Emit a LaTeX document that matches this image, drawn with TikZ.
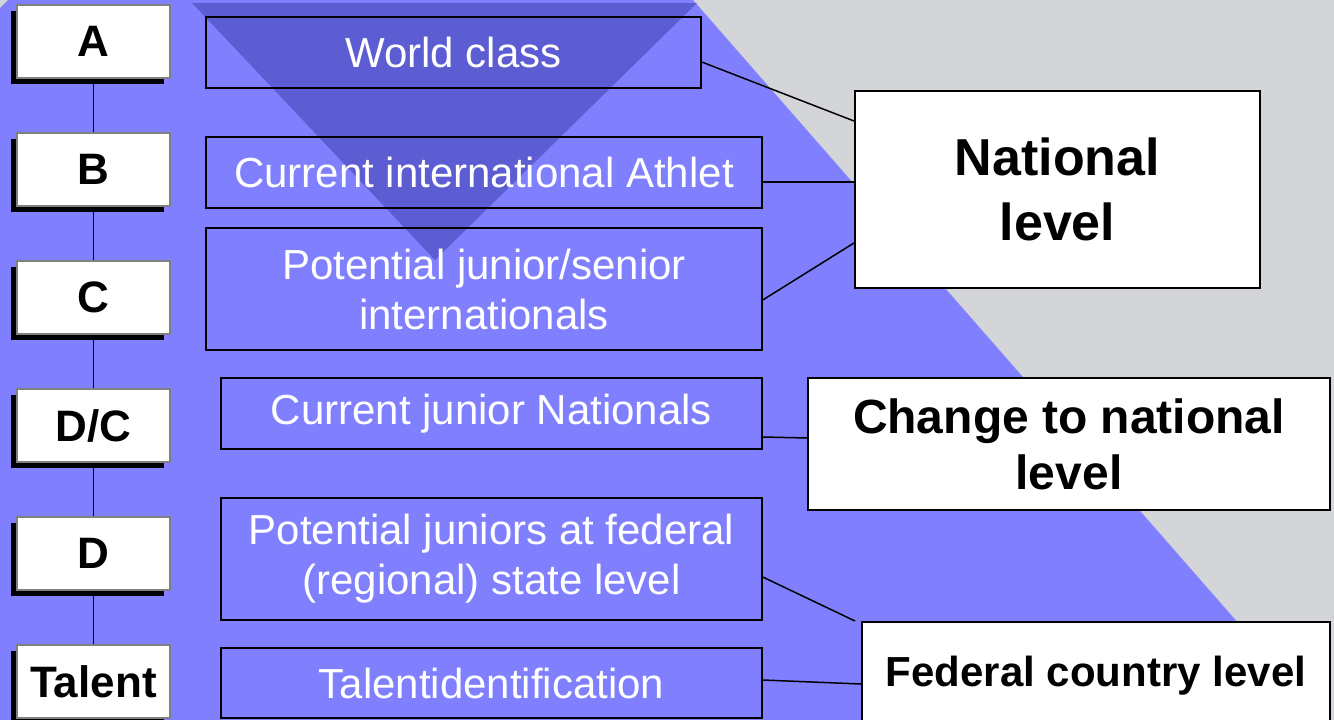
\documentclass[tikz,border=0pt]{standalone}
\usepackage{fontspec}
\setmainfont{Liberation Sans}
\usetikzlibrary{shadows}
\definecolor{bgblue}{HTML}{8080FF}
\definecolor{bggray}{HTML}{D4D5D9}
\definecolor{funnel}{HTML}{5D5DD3}
\tikzset{
  grade/.style={draw=gray,line width=2pt,fill=white,minimum width=153pt,minimum height=73pt,inner sep=0pt,
    drop shadow={shadow xshift=-6pt,shadow yshift=-6pt,fill=black,opacity=1},
    font=\fontsize{44}{50}\selectfont\bfseries},
  group/.style={draw=black,line width=1.5pt,text=white,inner sep=0pt,align=center,
    font=\fontsize{42}{50}\selectfont},
  level/.style={draw=black,line width=2pt,fill=white,inner sep=0pt,align=center},
  link/.style={line width=1.5pt}
}
\begin{document}
\begin{tikzpicture}[x=1pt,y=-1pt]
            \useasboundingbox (0,0) rectangle (1334,720);
            % background
            \fill [bggray] (0,0) rectangle (1334,720);
            \fill [bgblue] (8,0) -- (693,0) -- (1323,720) -- (0,720) -- (0,8) -- cycle;
            \fill [funnel] (192,3) -- (697,3) -- (435,260) -- cycle;
            % grades
            \node [grade] (ga) at (93.5,41.5) {A};
            \node [grade] (gb) at (93.5,169.5) {B};
            \node [grade] (gc) at (93.5,297.5) {C};
            \node [grade] (gdc) at (93.5,425.5) {D/C};
            \node [grade] (gd) at (93.5,553.5) {D};
            \node [grade] (gt) at (93.5,681.5) {Talent};
            \draw [link] (ga) -- (gb);
            \draw [link] (gb) -- (gc);
            \draw [link] (gc) -- (gdc);
            \draw [link] (gdc) -- (gd);
            \draw [link] (gd) -- (gt);
            % athlete groups
            \node [group,minimum width=495pt,minimum height=71pt] (world) at (453.5,52.5) {World class};
            \node [group,minimum width=556pt,minimum height=71pt] (intl) at (484,172.5) {Current international Athlet};
            \node [group,minimum width=556pt,minimum height=122pt] (potintl) at (484,289) {Potential junior/senior\\internationals};
            \node [group,minimum width=541pt,minimum height=71pt] (junnat) at (491.5,413.5) {Current junior Nationals};
            \node [group,minimum width=541pt,minimum height=122pt] (potfed) at (491.5,559) {Potential juniors at federal\\(regional) state level};
            \node [group,minimum width=541pt,minimum height=70pt] (tid) at (491.5,683) {Talentidentification};
            % levels
            \node [level,minimum width=405pt,minimum height=197pt,font=\fontsize{52}{65}\selectfont\bfseries] (national) at (1057.5,189.5) {National\\level};
            \node [level,minimum width=522pt,minimum height=132pt,font=\fontsize{48}{56}\selectfont\bfseries] (change) at (1069,444) {Change to national\\level};
            \node [level,minimum width=468pt,minimum height=108pt,font=\fontsize{42}{50}\selectfont\bfseries] (federal) at (1096,676) {Federal country level};
            \draw [link] ([yshift=-9.5pt]world.east) -- ([yshift=68.5pt]national.west);
            \draw [link] ([yshift=-9.5pt]intl.east) -- ([yshift=7.5pt]national.west);
            \draw [link] ([yshift=-11pt]potintl.east) -- ([yshift=-53.5pt]national.west);
            \draw [link] ([yshift=-23.5pt]junnat.east) -- ([yshift=6pt]change.west);
            \draw [link] ([yshift=-18pt]potfed.east) -- ([xshift=-6pt]federal.north west);
            \draw [link] ([yshift=3pt]tid.east) -- ([yshift=-8pt]federal.west);
        \end{tikzpicture}
\end{document}
